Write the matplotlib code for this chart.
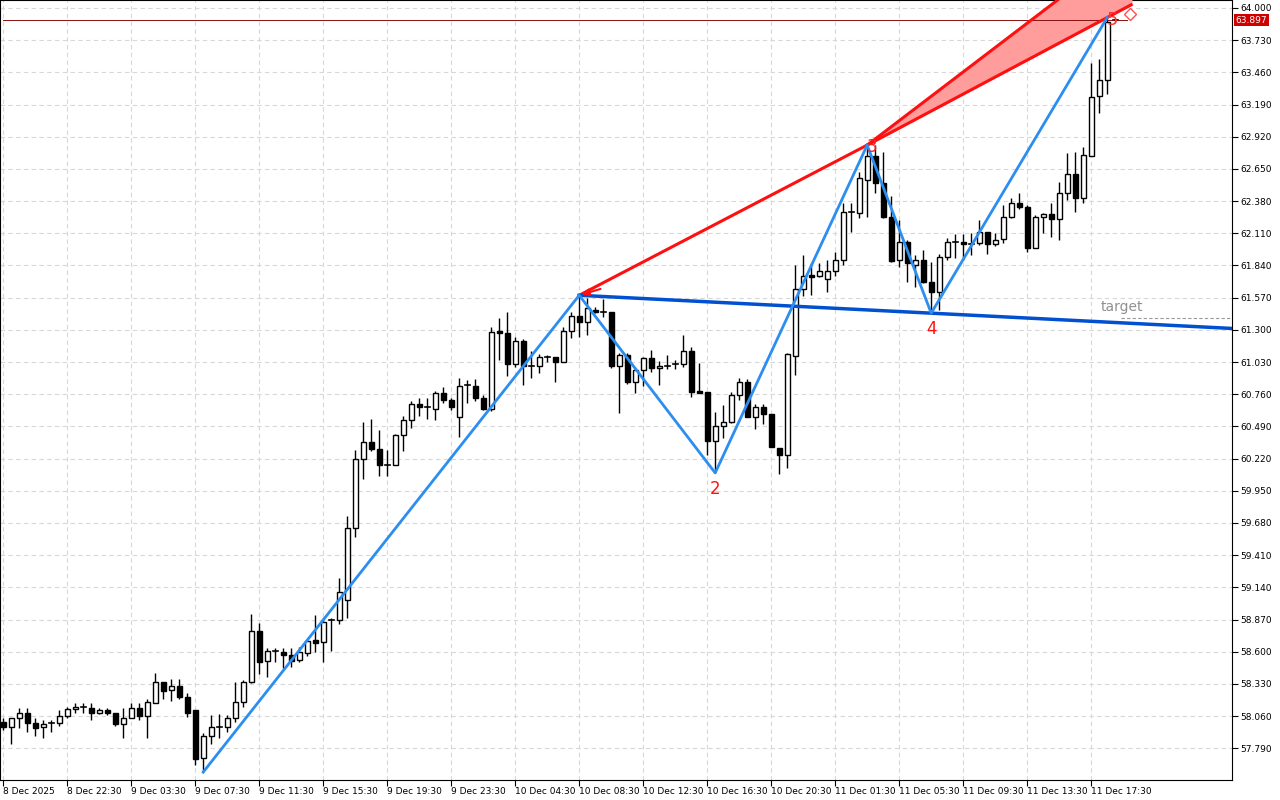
import matplotlib
matplotlib.use("Agg")
import matplotlib.pyplot as plt
import numpy as np

# M30 candles, 8 Dec 2025 18:30 .. 11 Dec 2025
opens = [58.01, 57.97, 58.04, 58.09, 58.00, 57.97, 58.00, 58.00, 58.06, 58.12,
         58.14, 58.13, 58.09, 58.11, 58.09, 57.99, 58.04, 58.13, 58.06, 58.17,
         58.35, 58.28, 58.31, 58.22, 58.11, 57.71, 57.89, 57.97, 57.97, 58.04,
         58.18, 58.35, 58.77, 58.52, 58.61, 58.60, 58.57, 58.53, 58.59, 58.70,
         58.68, 58.87, 58.87, 59.03, 59.64, 60.22, 60.36, 60.30, 60.17, 60.17,
         60.42, 60.54, 60.68, 60.65, 60.64, 60.77, 60.71, 60.57, 60.84, 60.83,
         60.73, 60.64, 61.29, 61.27, 61.01, 61.21, 61.00, 61.00, 61.07, 61.07,
         61.03, 61.29, 61.42, 61.37, 61.47, 61.45, 61.45, 61.00, 61.09, 60.86,
         60.96, 61.06, 60.98, 61.00, 61.01, 61.01, 61.12, 60.79, 60.78, 60.37,
         60.49, 60.53, 60.75, 60.86, 60.57, 60.65, 60.59, 60.31, 60.25, 61.08,
         61.64, 61.76, 61.75, 61.73, 61.79, 61.89, 62.29, 62.28, 62.56, 62.76,
         62.53, 62.25, 61.89, 62.04, 61.84, 61.89, 61.70, 61.62, 61.91, 62.04,
         62.04, 62.02, 62.03, 62.12, 62.02, 62.06, 62.25, 62.36, 62.33, 61.99,
         62.25, 62.27, 62.23, 62.45, 62.61, 62.41, 62.76, 63.26, 63.40, 63.897]
highs = [58.04, 58.04, 58.13, 58.13, 58.04, 58.03, 58.03, 58.11, 58.14, 58.17,
         58.17, 58.17, 58.13, 58.13, 58.09, 58.13, 58.17, 58.17, 58.20, 58.42,
         58.35, 58.37, 58.37, 58.25, 58.11, 57.92, 58.07, 58.08, 58.07, 58.35,
         58.36, 58.92, 58.84, 58.63, 58.63, 58.63, 58.63, 58.64, 58.71, 58.91,
         58.88, 58.88, 59.22, 59.74, 60.29, 60.53, 60.55, 60.46, 60.29, 60.43,
         60.58, 60.70, 60.73, 60.73, 60.79, 60.82, 60.73, 60.90, 60.88, 60.89,
         60.75, 61.32, 61.40, 61.45, 61.24, 61.22, 61.12, 61.10, 61.09, 61.07,
         61.32, 61.45, 61.59, 61.57, 61.49, 61.56, 61.45, 61.11, 61.11, 60.99,
         61.07, 61.13, 61.04, 61.09, 61.05, 61.26, 61.16, 61.02, 60.78, 60.61,
         60.67, 60.78, 60.90, 60.89, 60.68, 60.68, 60.59, 60.31, 61.11, 61.84,
         61.93, 61.86, 61.86, 61.89, 61.95, 62.36, 62.36, 62.62, 62.85, 62.85,
         62.79, 62.42, 62.22, 62.05, 61.93, 61.97, 61.87, 61.94, 62.07, 62.10,
         62.10, 62.11, 62.22, 62.12, 62.11, 62.35, 62.41, 62.45, 62.35, 62.26,
         62.28, 62.36, 62.54, 62.78, 62.79, 62.83, 63.54, 63.57, 63.92, 63.90]
lows = [57.94, 57.83, 57.96, 57.93, 57.89, 57.88, 57.93, 57.98, 58.04, 58.09,
        58.09, 58.03, 58.08, 58.07, 57.98, 57.88, 58.04, 58.03, 57.88, 58.17,
        58.20, 58.19, 58.20, 58.05, 57.65, 57.59, 57.83, 57.88, 57.93, 58.01,
        58.14, 58.34, 58.41, 58.39, 58.51, 58.46, 58.47, 58.51, 58.56, 58.60,
        58.51, 58.61, 58.83, 58.88, 59.56, 60.05, 60.28, 60.07, 60.07, 60.17,
        60.28, 60.48, 60.58, 60.55, 60.54, 60.69, 60.63, 60.40, 60.69, 60.70,
        60.63, 60.62, 61.05, 60.91, 60.99, 60.84, 60.90, 60.94, 61.03, 60.86,
        61.03, 61.23, 61.24, 61.26, 61.44, 61.41, 60.98, 60.60, 60.85, 60.77,
        60.83, 60.95, 60.84, 60.97, 60.97, 60.99, 60.74, 60.77, 60.25, 60.10,
        60.39, 60.52, 60.71, 60.57, 60.47, 60.51, 60.32, 60.09, 60.14, 60.92,
        61.58, 61.59, 61.74, 61.62, 61.75, 61.84, 62.12, 62.24, 62.25, 62.45,
        62.24, 61.87, 61.83, 61.70, 61.66, 61.69, 61.44, 61.47, 61.89, 61.90,
        61.89, 61.93, 62.01, 61.94, 62.00, 62.03, 62.24, 62.31, 61.95, 61.99,
        62.11, 62.08, 62.05, 62.39, 62.29, 62.36, 62.76, 63.12, 63.28, 63.89]
closes = [57.97, 58.04, 58.09, 58.00, 57.96, 57.99, 58.00, 58.06, 58.12, 58.14,
          58.14, 58.09, 58.11, 58.09, 57.99, 58.04, 58.13, 58.06, 58.18, 58.35,
          58.27, 58.31, 58.22, 58.09, 57.70, 57.89, 57.97, 57.97, 58.04, 58.18,
          58.35, 58.77, 58.51, 58.61, 58.61, 58.57, 58.52, 58.60, 58.69, 58.67,
          58.85, 58.87, 59.10, 59.64, 60.22, 60.36, 60.30, 60.17, 60.17, 60.42,
          60.54, 60.68, 60.65, 60.64, 60.77, 60.71, 60.65, 60.83, 60.84, 60.73,
          60.64, 61.28, 61.27, 61.01, 61.21, 61.00, 61.00, 61.07, 61.07, 61.03,
          61.29, 61.42, 61.37, 61.48, 61.45, 61.45, 61.00, 61.09, 60.86, 60.96,
          61.06, 60.98, 61.00, 61.00, 61.01, 61.12, 60.78, 60.77, 60.37, 60.49,
          60.53, 60.75, 60.86, 60.57, 60.65, 60.59, 60.32, 60.25, 61.10, 61.64,
          61.75, 61.74, 61.79, 61.79, 61.89, 62.29, 62.29, 62.57, 62.76, 62.53,
          62.25, 61.88, 62.04, 61.86, 61.89, 61.70, 61.62, 61.91, 62.04, 62.04,
          62.02, 62.02, 62.12, 62.02, 62.05, 62.25, 62.36, 62.33, 61.99, 62.25,
          62.27, 62.23, 62.45, 62.61, 62.41, 62.77, 63.25, 63.40, 63.88, 63.897]

# wave pivots (bar index, price, label)
wave_idx = [25, 72, 89, 108, 116, 138]
wave_price = [57.59, 61.59, 60.10, 62.85, 61.44, 63.92]
wave_labels = ["", "", "2", "3", "4", "5"]

# upper edge of the red fan: bar index and price where it leaves the top
fan_top_idx = 131.8
fan_top_price = 64.067
fan_end_idx = 141.0

target_price = 61.40
last_price = 63.897

tick_labels = ["8 Dec 2025", "8 Dec 22:30", "9 Dec 03:30", "9 Dec 07:30", "9 Dec 11:30",
               "9 Dec 15:30", "9 Dec 19:30", "9 Dec 23:30", "10 Dec 04:30", "10 Dec 08:30",
               "10 Dec 12:30", "10 Dec 16:30", "10 Dec 20:30", "11 Dec 01:30", "11 Dec 05:30",
               "11 Dec 09:30", "11 Dec 13:30", "11 Dec 17:30"]
price_ticks = [57.790, 58.060, 58.330, 58.600, 58.870, 59.140, 59.410, 59.680, 59.950,
               60.220, 60.490, 60.760, 61.030, 61.300, 61.570, 61.840, 62.110, 62.380,
               62.650, 62.920, 63.190, 63.460, 63.730, 64.000]

plt.rcParams['font.family'] = ['DejaVu Sans']
fig = plt.figure(figsize=(12.8, 8), dpi=100)
ax = fig.add_axes([0.0, 0.025, 1232 / 1280, 0.975])

xmin, xmax = -0.4, 153.6
ymin, ymax = 57.524, 64.067
ax.set_xlim(xmin, xmax)
ax.set_ylim(ymin, ymax)

# grid
xt = list(range(0, len(opens), 8))
for x in xt:
    ax.axvline(x, color="#d8d8d8", lw=0.8, ls=(0, (4, 3)), zorder=0)
for p in price_ticks:
    ax.axhline(p, color="#d8d8d8", lw=0.8, ls=(0, (4, 3)), zorder=0)

# candles
w = 0.6
for i in range(len(opens)):
    o, h, l, c = opens[i], highs[i], lows[i], closes[i]
    ax.plot([i, i], [l, h], color="black", lw=1, zorder=2, solid_capstyle="butt")
    bottom = min(o, c)
    height = abs(c - o)
    if height < 0.012:
        ax.plot([i - w / 2, i + w / 2], [o, o], color="black", lw=1.2, zorder=3)
    else:
        face = "white" if c > o else "black"
        ax.add_patch(plt.Rectangle((i - w / 2, bottom), w, height, facecolor=face,
                                   edgecolor="black", lw=1, zorder=3))

# red fan from pivot 3
x1, p1 = wave_idx[1], wave_price[1]
x3, p3 = wave_idx[3], wave_price[3]
x5, p5 = wave_idx[5], wave_price[5]
s_up = (fan_top_price - p3) / (fan_top_idx - x3)
s35 = (p5 - p3) / (x5 - x3)
xs = np.linspace(x3, fan_end_idx, 60)
up = p3 + s_up * (xs - x3)
lo = p3 + s35 * (xs - x3)
ax.fill_between(xs, lo, up, color="#ff9c9c", zorder=4)
ax.plot([x1, x3], [p1, p3], color="#ff1010", lw=2.2, zorder=5)
ax.plot(xs, up, color="#ff1010", lw=2.2, zorder=5)
ax.plot(xs, lo, color="#ff1010", lw=2.2, zorder=5)
ax.annotate("", xy=(x1, p1), xytext=(x1 + 3, p1 + 0.06),
            arrowprops=dict(arrowstyle="-|>", color="#ff1010", lw=1.5), zorder=6)
ax.plot([x5 + 2.8], [p5 + 0.03], marker="D", ms=6, mfc="white", mec="#ff5050", zorder=7)

# blue line through pivots 1 and 4
x4, p4 = wave_idx[4], wave_price[4]
s14 = (p4 - p1) / (x4 - x1)
ax.plot([x1, xmax], [p1, p1 + s14 * (xmax - x1)], color="#0050d0", lw=2.5, zorder=5)

# zigzag
ax.plot(wave_idx, wave_price, color="#2b8ef0", lw=2, zorder=6)

for xi, pi, lab in zip(wave_idx, wave_price, wave_labels):
    if not lab:
        continue
    if lab in ("2", "4"):
        ax.text(xi, pi - 0.06, lab, color="#ff1010", fontsize=12, ha="center", va="top", zorder=8)
    elif lab == "3":
        ax.text(xi + 0.6, pi - 0.02, lab, color="#ff2020", fontsize=12, ha="center", va="center", zorder=8)
    else:
        ax.text(xi + 0.7, pi - 0.02, lab, color="#ff3030", fontsize=13, ha="center", va="center", zorder=8)

# target
ax.plot([139.7, xmax], [target_price, target_price], color="#999999", lw=0.8, ls=(0, (3, 2)), zorder=4)
ax.text(137.2, target_price + 0.03, "target", color="#909090", fontsize=10, va="bottom", zorder=7)

# current price line
ax.plot([0, 140.5], [last_price, last_price], color="#8a1010", lw=0.7, zorder=4)

# axes styling
ax.yaxis.tick_right()
ax.set_yticks(price_ticks)
ax.set_yticklabels([f"{p:.3f}" for p in price_ticks], fontsize=6.5)
ax.set_xticks(xt)
ax.set_xticklabels(tick_labels, fontsize=6.5, ha="left")
ax.tick_params(axis="both", length=4, width=0.8, color="black", pad=1)
ax.tick_params(axis="y", pad=2)
for s in ax.spines.values():
    s.set_linewidth(0.8)
ax.text(1.003, (last_price - ymin) / (ymax - ymin), f"{last_price:.3f}", transform=ax.transAxes,
        fontsize=6.5, color="white", va="center", ha="left",
        bbox=dict(boxstyle="square,pad=0.15", fc="#d00000", ec="none"))

fig.savefig("out.png", dpi=100)
